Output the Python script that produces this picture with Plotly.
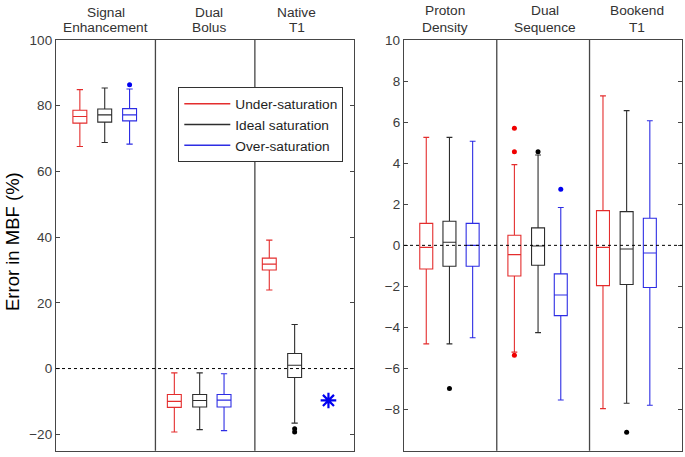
import plotly.graph_objects as go

W, H = 685, 457


def px(x):
    return x / W


def py(y):
    return 1 - y / H


# ---- data ----
series = ['Under-saturation', 'Ideal saturation', 'Over-saturation']
colors = ['rgb(228,45,45)', 'rgb(45,45,45)', 'rgb(45,45,228)']
dot_colors = ['rgb(240,0,0)', 'rgb(0,0,0)', 'rgb(0,0,240)']

left_methods = [['Signal', 'Enhancement'], ['Dual', 'Bolus'], ['Native', 'T1']]
right_methods = [['Proton', 'Density'], ['Dual', 'Sequence'], ['Bookend', 'T1']]

# position of each box inside its method slot (slot = 1 unit)
slot_pos = [[0.24, 0.49, 0.74], [0.19, 0.445, 0.69], [0.145, 0.40, 0.65]]

# left panel: [SE, DB, NT1]  (None = no box)
left_q1 = [[74.7, -11.8, 30.0], [75.0, -11.7, -2.7], [75.4, -11.7, None]]
left_med = [[76.7, -10.0, 31.8], [77.2, -9.7, 1.0], [77.2, -9.6, None]]
left_q3 = [[78.6, -7.9, 33.6], [79.0, -7.9, 4.6], [79.1, -7.9, None]]
left_lo = [[67.6, -19.3, 23.9], [68.8, -18.6, -16.6], [68.3, -18.9, None]]
left_hi = [[84.9, -1.3, 39.1], [85.4, -1.3, 13.4], [85.1, -1.6, None]]
left_out_x = [[], [2.40, 2.40], [0.74]]
left_out_y = [[], [-18.3, -19.3], [86.4]]
# Native T1 over-saturation shown only as a single asterisk
star_x = [2.74]
star_y = [-9.7]

# right panel: [PD, DS, BE]
right_q1 = [[-1.15, -1.49, -1.96], [-1.02, -0.97, -1.91], [-1.02, -3.42, -2.05]]
right_med = [[-0.10, -0.45, -0.10], [0.15, -0.03, -0.18], [0.0, -2.42, -0.37]]
right_q3 = [[1.07, 0.49, 1.69], [1.17, 0.85, 1.64], [1.07, -1.39, 1.32]]
right_lo = [[-4.8, -5.2, -7.95], [-4.8, -4.25, -7.69], [-4.5, -7.53, -7.79]]
right_hi = [[5.26, 3.93, 7.28], [5.26, 4.4, 6.56], [5.07, 1.84, 6.07]]
right_out_x = [[1.19, 1.19, 1.19], [0.49, 1.445, 2.40], [1.69]]
right_out_y = [[5.7, 4.56, -5.35], [-6.97, 4.56, -9.1], [2.73]]

left_ticks = [-20, 0, 20, 40, 60, 80, 100]
right_ticks = [-10, -8, -6, -4, -2, 0, 2, 4, 6, 8, 10]

# ---- figure ----
fig = go.Figure()


def add_boxes(q1, med, q3, lo, hi, xa, ya):
    for s in range(3):
        xs, a, b, c, d, e = [], [], [], [], [], []
        for m in range(3):
            if q1[s][m] is None:
                continue
            xs.append(m + slot_pos[m][s])
            a.append(q1[s][m]); b.append(med[s][m]); c.append(q3[s][m])
            d.append(lo[s][m]); e.append(hi[s][m])
        fig.add_trace(go.Box(
            x=xs, q1=a, median=b, q3=c, lowerfence=d, upperfence=e,
            width=0.14, whiskerwidth=0.45, boxpoints=False,
            line=dict(color=colors[s], width=1.1),
            fillcolor='rgba(0,0,0,0)', showlegend=False, hoverinfo='skip',
            xaxis=xa, yaxis=ya))


def add_outliers(ox, oy, xa, ya):
    for s in range(3):
        if not ox[s]:
            continue
        fig.add_trace(go.Scatter(
            x=ox[s], y=oy[s], mode='markers',
            marker=dict(color=dot_colors[s], size=5),
            showlegend=False, hoverinfo='skip', xaxis=xa, yaxis=ya))


add_boxes(left_q1, left_med, left_q3, left_lo, left_hi, 'x', 'y')
add_outliers(left_out_x, left_out_y, 'x', 'y')
fig.add_trace(go.Scatter(x=star_x, y=star_y, mode='markers',
                         marker=dict(symbol='asterisk-open', size=13, color=dot_colors[2],
                                     line=dict(color=dot_colors[2], width=2.2)),
                         showlegend=False, hoverinfo='skip', xaxis='x', yaxis='y'))
add_boxes(right_q1, right_med, right_q3, right_lo, right_hi, 'x2', 'y2')
add_outliers(right_out_x, right_out_y, 'x2', 'y2')

# legend entries
for s in range(3):
    fig.add_trace(go.Scatter(x=[None], y=[None], mode='lines', name=series[s],
                             line=dict(color=colors[s], width=1.5),
                             xaxis='x', yaxis='y'))

frame = 'rgb(70,70,70)'
tickfont = dict(family='Liberation Sans, Arial', size=13.5, color='rgb(60,60,60)')
ydom = [py(450.7), py(40)]

xcommon = dict(range=[0, 3], showgrid=False, zeroline=False, showticklabels=False,
               ticks='', showline=True, linecolor=frame, linewidth=1.3, mirror=True,
               automargin=False, fixedrange=True)
ycommon = dict(showgrid=False, zeroline=False, ticks='inside', ticklen=4,
               tickcolor=frame, showline=True, linecolor=frame, linewidth=1.3,
               mirror='ticks', tickfont=tickfont, ticklabelstandoff=0,
               automargin=False, fixedrange=True)

fig.update_layout(
    width=W, height=H,
    margin=dict(l=0, r=0, t=0, b=0, autoexpand=False),
    paper_bgcolor='white', plot_bgcolor='white',
    boxmode='overlay', hovermode=False,
    xaxis=dict(domain=[px(56), px(354.3)], anchor='y', **xcommon),
    yaxis=dict(domain=ydom, anchor='x', range=[-25, 100], tickvals=left_ticks, **ycommon),
    xaxis2=dict(domain=[px(404), px(682.3)], anchor='y2', **xcommon),
    yaxis2=dict(domain=ydom, anchor='x2', range=[-10, 10], tickvals=right_ticks, **ycommon),
    legend=dict(x=px(178.3), y=py(87.3), xanchor='left', yanchor='top',
                bordercolor='rgb(50,50,50)', borderwidth=1, bgcolor='white',
                font=dict(family='Liberation Sans, Arial', size=13.7, color='rgb(30,30,30)'),
                tracegroupgap=0, itemwidth=46),
    showlegend=True,
)

# slot dividers and zero lines
for xa, ya in [('x', 'y'), ('x2', 'y2')]:
    for d in [1, 2]:
        fig.add_shape(type='line', xref=xa, yref=ya + ' domain', x0=d, x1=d, y0=0, y1=1,
                      line=dict(color=frame, width=1.3))
    fig.add_shape(type='line', xref=xa + ' domain', yref=ya, x0=0, x1=1, y0=0, y1=0,
                  line=dict(color='black', width=1, dash='3px,3px'))

# method labels above the panels, one annotation per text line
title_font = dict(family='Liberation Sans, Arial', size=13.7, color='rgb(50,50,50)')
left_off = [0.5, 0.54, 0.42]
right_off = [0.44, 0.515, 0.51]
for m in range(3):
    for k, yy in enumerate([12, 28]):
        fig.add_annotation(x=m + left_off[m], xref='x', y=py(yy), yref='paper',
                           text=left_methods[m][k], showarrow=False, font=title_font,
                           xanchor='center', yanchor='middle')
    for k, yy in enumerate([11, 27]):
        fig.add_annotation(x=m + right_off[m], xref='x2', y=py(yy), yref='paper',
                           text=right_methods[m][k], showarrow=False, font=title_font,
                           xanchor='center', yanchor='middle')

fig.add_annotation(x=px(12), y=py(242), xref='paper', yref='paper',
                   text='Error in MBF (%)', textangle=-90, showarrow=False,
                   xanchor='center', yanchor='middle',
                   font=dict(family='Liberation Sans, Arial', size=18.5, color='black'))

# drop the browser's default 8px body margin so the figure fills the window
fig.write_html('out.html', config={'displayModeBar': False},
               post_script="document.body.style.margin='0';document.body.style.overflow='hidden';")
